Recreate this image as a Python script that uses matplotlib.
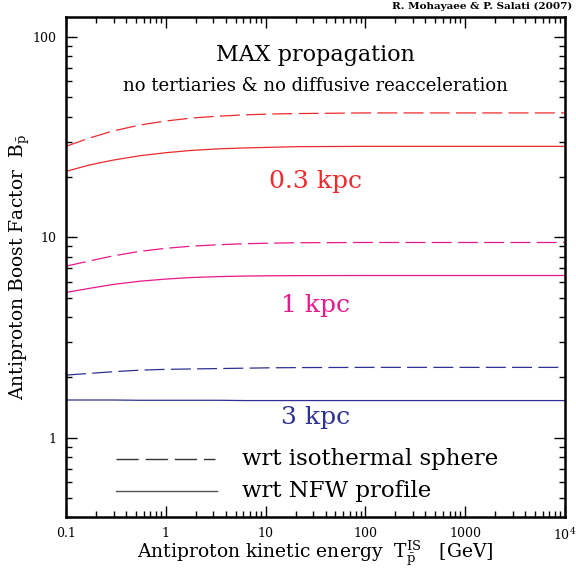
import numpy as np
import matplotlib
matplotlib.use("Agg")
from matplotlib import pyplot as plt
from matplotlib.ticker import LogLocator, FixedLocator, NullFormatter

plt.rcParams["font.family"] = "DejaVu Serif"
plt.rcParams["mathtext.fontset"] = "dejavuserif"

# antiproton kinetic energy [GeV]
energy = [0.1, 0.17, 0.29, 0.55, 1.0, 1.8, 3.4, 6.3, 11.6, 21, 100, 1000, 10000]

# boost factors
iso_03 = [28.4, 31.2, 33.8, 36.3, 38.0, 39.3, 40.2, 40.8, 41.2, 41.4, 41.7, 41.7, 41.7]
nfw_03 = [21.3, 22.9, 24.2, 25.5, 26.4, 27.1, 27.6, 27.9, 28.1, 28.3, 28.4, 28.4, 28.4]
iso_1 = [7.17, 7.6, 8.05, 8.5, 8.8, 9.02, 9.17, 9.28, 9.34, 9.38, 9.41, 9.41, 9.41]
nfw_1 = [5.3, 5.55, 5.8, 6.03, 6.18, 6.29, 6.36, 6.40, 6.42, 6.43, 6.44, 6.44, 6.44]
iso_3 = [2.05, 2.09, 2.13, 2.17, 2.19, 2.2, 2.21, 2.22, 2.23, 2.235, 2.24, 2.24, 2.24]
nfw_3 = [1.54, 1.54, 1.54, 1.535, 1.535, 1.535, 1.535, 1.53, 1.53, 1.53, 1.53, 1.53, 1.53]

red = "#ee2a2e"
magenta = "#e8198b"
blue = "#2e3192"
dash = (0, (16, 5))

fig = plt.figure(figsize=(5.76, 5.72), dpi=100)
ax = fig.add_axes([0.1146, 0.0956, 0.866, 0.874])

ax.plot(energy, iso_03, color=red, lw=0.9, ls=dash)
ax.plot(energy, nfw_03, color=red, lw=0.9)
ax.plot(energy, iso_1, color=magenta, lw=0.9, ls=dash)
ax.plot(energy, nfw_1, color=magenta, lw=0.9)
ax.plot(energy, iso_3, color=blue, lw=0.9, ls=dash)
ax.plot(energy, nfw_3, color=blue, lw=0.9)

ax.set_xscale("log")
ax.set_yscale("log")
ax.set_xlim(0.1, 1e4)
ax.set_ylim(0.4, 125)

#ticks
ax.xaxis.set_major_locator(FixedLocator([0.1, 1, 10, 100, 1000, 10000]))
ax.set_xticklabels(["0.1", "1", "10", "100", "1000", "10$^4$"])
ax.yaxis.set_major_locator(FixedLocator([1, 10, 100]))
ax.set_yticklabels(["1", "10", "100"])
ax.xaxis.set_minor_locator(LogLocator(base=10, subs=np.arange(2, 10)))
ax.yaxis.set_minor_locator(LogLocator(base=10, subs=np.arange(2, 10)))
ax.xaxis.set_minor_formatter(NullFormatter())
ax.yaxis.set_minor_formatter(NullFormatter())
ax.tick_params(which="both", direction="in", top=True, right=True, labelsize=9, width=1)
ax.tick_params(which="major", length=8, pad=7)
ax.tick_params(which="minor", length=4)
for s in ax.spines.values():
    s.set_linewidth(1.8)

#labels
ax.set_xlabel(r"Antiproton kinetic energy  T$^{\rm IS}_{\bar{\rm p}}$   [GeV]", fontsize=13.5, labelpad=-3)
ax.set_ylabel(r"Antiproton Boost Factor  B$_{\bar{\rm p}}$", fontsize=13.5, labelpad=0)

ax.text(0.5, 0.925, "MAX propagation", transform=ax.transAxes, ha="center", va="center", fontsize=16)
ax.text(0.5, 0.863, "no tertiaries & no diffusive reacceleration", transform=ax.transAxes,
        ha="center", va="center", fontsize=13)
ax.text(0.5, 0.671, "0.3 kpc", transform=ax.transAxes, ha="center", va="center", fontsize=18, color=red)
ax.text(0.5, 0.424, "1 kpc", transform=ax.transAxes, ha="center", va="center", fontsize=18, color=magenta)
ax.text(0.5, 0.199, "3 kpc", transform=ax.transAxes, ha="center", va="center", fontsize=18, color=blue)

#legend
ax.plot([0.1 * 10 ** 0.5, 0.1 * 10 ** 1.49], [0.4 * 10 ** 0.29, 0.4 * 10 ** 0.29], color="#333333", lw=1, ls=dash)
ax.plot([0.1 * 10 ** 0.5, 0.1 * 10 ** 1.51], [0.4 * 10 ** 0.13, 0.4 * 10 ** 0.13], color="#555555", lw=1)
ax.text(0.352, 0.117, "wrt isothermal sphere", transform=ax.transAxes, ha="left", va="center", fontsize=16.5)
ax.text(0.352, 0.052, "wrt NFW profile", transform=ax.transAxes, ha="left", va="center", fontsize=16.5)

fig.text(0.993, 0.988, "R. Mohayaee & P. Salati (2007)", ha="right", va="center", fontsize=7.5, weight="bold")

plt.savefig("out.png", dpi=100)
